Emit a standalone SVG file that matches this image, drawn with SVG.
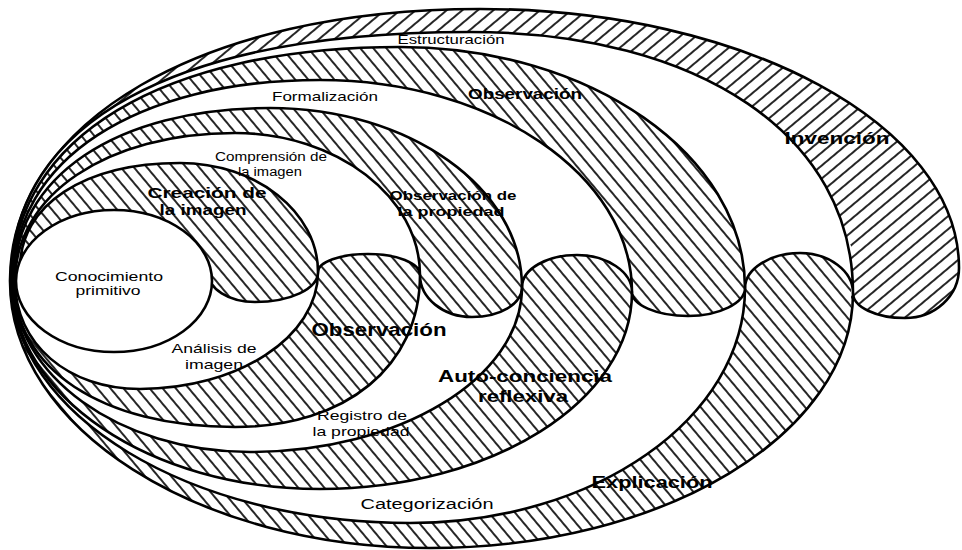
<svg xmlns="http://www.w3.org/2000/svg" xmlns:xlink="http://www.w3.org/1999/xlink" width="962" height="550" viewBox="0 0 962 550">
<style>
.ln{stroke:#000;stroke-width:2.6;stroke-linejoin:round}
.w{fill:#fff}
.h{fill:url(#hb)}
.t{font-family:"Liberation Sans",Arial,Helvetica,sans-serif;font-size:13px;text-anchor:middle;fill:#000}
.b{font-weight:bold}
</style>
<defs>
<pattern id="hb" width="10" height="10" patternUnits="userSpaceOnUse" patternTransform="rotate(-40)">
<rect width="10" height="10" fill="#fff"/><line x1="5" y1="0" x2="5" y2="10" stroke="#000" stroke-width="1.7"/>
</pattern>
<pattern id="hf" width="10" height="10" patternUnits="userSpaceOnUse" patternTransform="rotate(50)">
<rect width="10" height="10" fill="#fff"/><line x1="5" y1="0" x2="5" y2="10" stroke="#000" stroke-width="1.7"/>
</pattern>
<clipPath id="cTop"><polygon points="0,0 962,0 962,550 851,550 851,245 0,245"/></clipPath>
<clipPath id="cBot"><polygon points="0,245 851,245 851,550 0,550"/></clipPath>
<path id="p8" d="M10 281C10 121 203 9 480 9C745 9 959 125 959 268C959 296 935 318 905 318C876 318 853 307 853 293C853 434 664 548 430 548C198 548 10 428 10 281Z"/>
</defs>

<g id="invencion-explicacion">
<use xlink:href="#p8" fill="url(#hb)" clip-path="url(#cBot)"/>
<use xlink:href="#p8" fill="url(#hf)" clip-path="url(#cTop)"/>
<use xlink:href="#p8" fill="none" class="ln"/>
</g>
<g id="estructuracion-categorizacion">
<path class="w ln" d="M11 281C11 122 176 32 470 32C700 32 853 136 853 293C853 271 829 253 800 253C770 253 745 269 745 288C745 418 595 523 410 523C190 523 11 415 11 281Z"/>
</g>
<g id="observacion-autoconciencia">
<path class="h ln" d="M12 281C12 138 163 47 400 47C590 47 745 155 745 288C745 303 719 316 688 316C657 316 632 305 632 292C632 401 492 489 320 489C150 489 12 396 12 281Z"/>
</g>
<g id="formalizacion-registro">
<path class="w ln" d="M13 281C13 160 136 80 320 80C492 80 632 175 632 292C632 272 607 255 577 255C547 255 522 269 522 287C522 378 400 452 250 452C119 452 13 375 13 281Z"/>
</g>
<g id="observacion-propiedad">
<path class="h ln" d="M14 281C14 177 116 108 270 108C409 108 522 188 522 287C522 304 500 317 472 317C443 317 420 298 420 275C420 366 346 427 235 427C102 427 14 369 14 281Z"/>
</g>
<g id="comprension-analisis">
<path class="w ln" d="M15 281C15 195 107 133 235 133C337 133 420 197 420 275C420 263 397 254 368 254C340 254 318 262 318 272C318 337 238 389 140 389C68 389 15 344 15 281Z"/>
</g>
<g id="creacion">
<path class="h ln" d="M20 268C20 205 84 163 180 163C256 163 318 212 318 272C318 289 290 302 255 302C229 302 208 289 208 272L20 272Z"/>
</g>
<g id="conocimiento-primitivo">
<ellipse class="w ln" cx="114" cy="281" rx="98" ry="71"/>
</g>

<g id="labels">
<text class="t" x="451" y="44" textLength="107" lengthAdjust="spacingAndGlyphs">Estructuración</text>
<text class="t" x="325" y="101" textLength="106" lengthAdjust="spacingAndGlyphs">Formalización</text>
<text class="t b" x="525" y="99" style="font-size:15px" textLength="114" lengthAdjust="spacingAndGlyphs">Observación</text>
<text class="t b" x="837" y="144" style="font-size:16px" textLength="105" lengthAdjust="spacingAndGlyphs">Invención</text>
<text class="t" x="271" y="161" style="font-size:12px" textLength="112" lengthAdjust="spacingAndGlyphs">Comprensión de</text>
<text class="t" x="270" y="176" style="font-size:12px" textLength="64" lengthAdjust="spacingAndGlyphs">la imagen</text>
<text class="t b" x="207" y="198" style="font-size:14px" textLength="119" lengthAdjust="spacingAndGlyphs">Creación de</text>
<text class="t b" x="203" y="215" style="font-size:14px" textLength="87" lengthAdjust="spacingAndGlyphs">la imagen</text>
<text class="t b" x="453" y="200" textLength="127" lengthAdjust="spacingAndGlyphs">Observación de</text>
<text class="t b" x="451" y="216" textLength="107" lengthAdjust="spacingAndGlyphs">la propiedad</text>
<text class="t" x="109" y="281" style="font-size:12px" textLength="108" lengthAdjust="spacingAndGlyphs">Conocimiento</text>
<text class="t" x="108" y="295" style="font-size:12px" textLength="65" lengthAdjust="spacingAndGlyphs">primitivo</text>
<text class="t" x="214" y="353" textLength="85" lengthAdjust="spacingAndGlyphs">Análisis de</text>
<text class="t" x="214" y="369" textLength="58" lengthAdjust="spacingAndGlyphs">imagen</text>
<text class="t b" x="379" y="336" style="font-size:18px" textLength="135" lengthAdjust="spacingAndGlyphs">Observación</text>
<text class="t b" x="525" y="382" style="font-size:17px" textLength="174" lengthAdjust="spacingAndGlyphs">Auto-conciencia</text>
<text class="t b" x="523" y="402" style="font-size:17px" textLength="90" lengthAdjust="spacingAndGlyphs">reflexiva</text>
<text class="t" x="362" y="420" textLength="90" lengthAdjust="spacingAndGlyphs">Registro de</text>
<text class="t" x="361" y="436" textLength="97" lengthAdjust="spacingAndGlyphs">la propiedad</text>
<text class="t" x="427" y="509" style="font-size:14px" textLength="133" lengthAdjust="spacingAndGlyphs">Categorización</text>
<text class="t b" x="652" y="488" style="font-size:16px" textLength="121" lengthAdjust="spacingAndGlyphs">Explicación</text>
</g>
</svg>
